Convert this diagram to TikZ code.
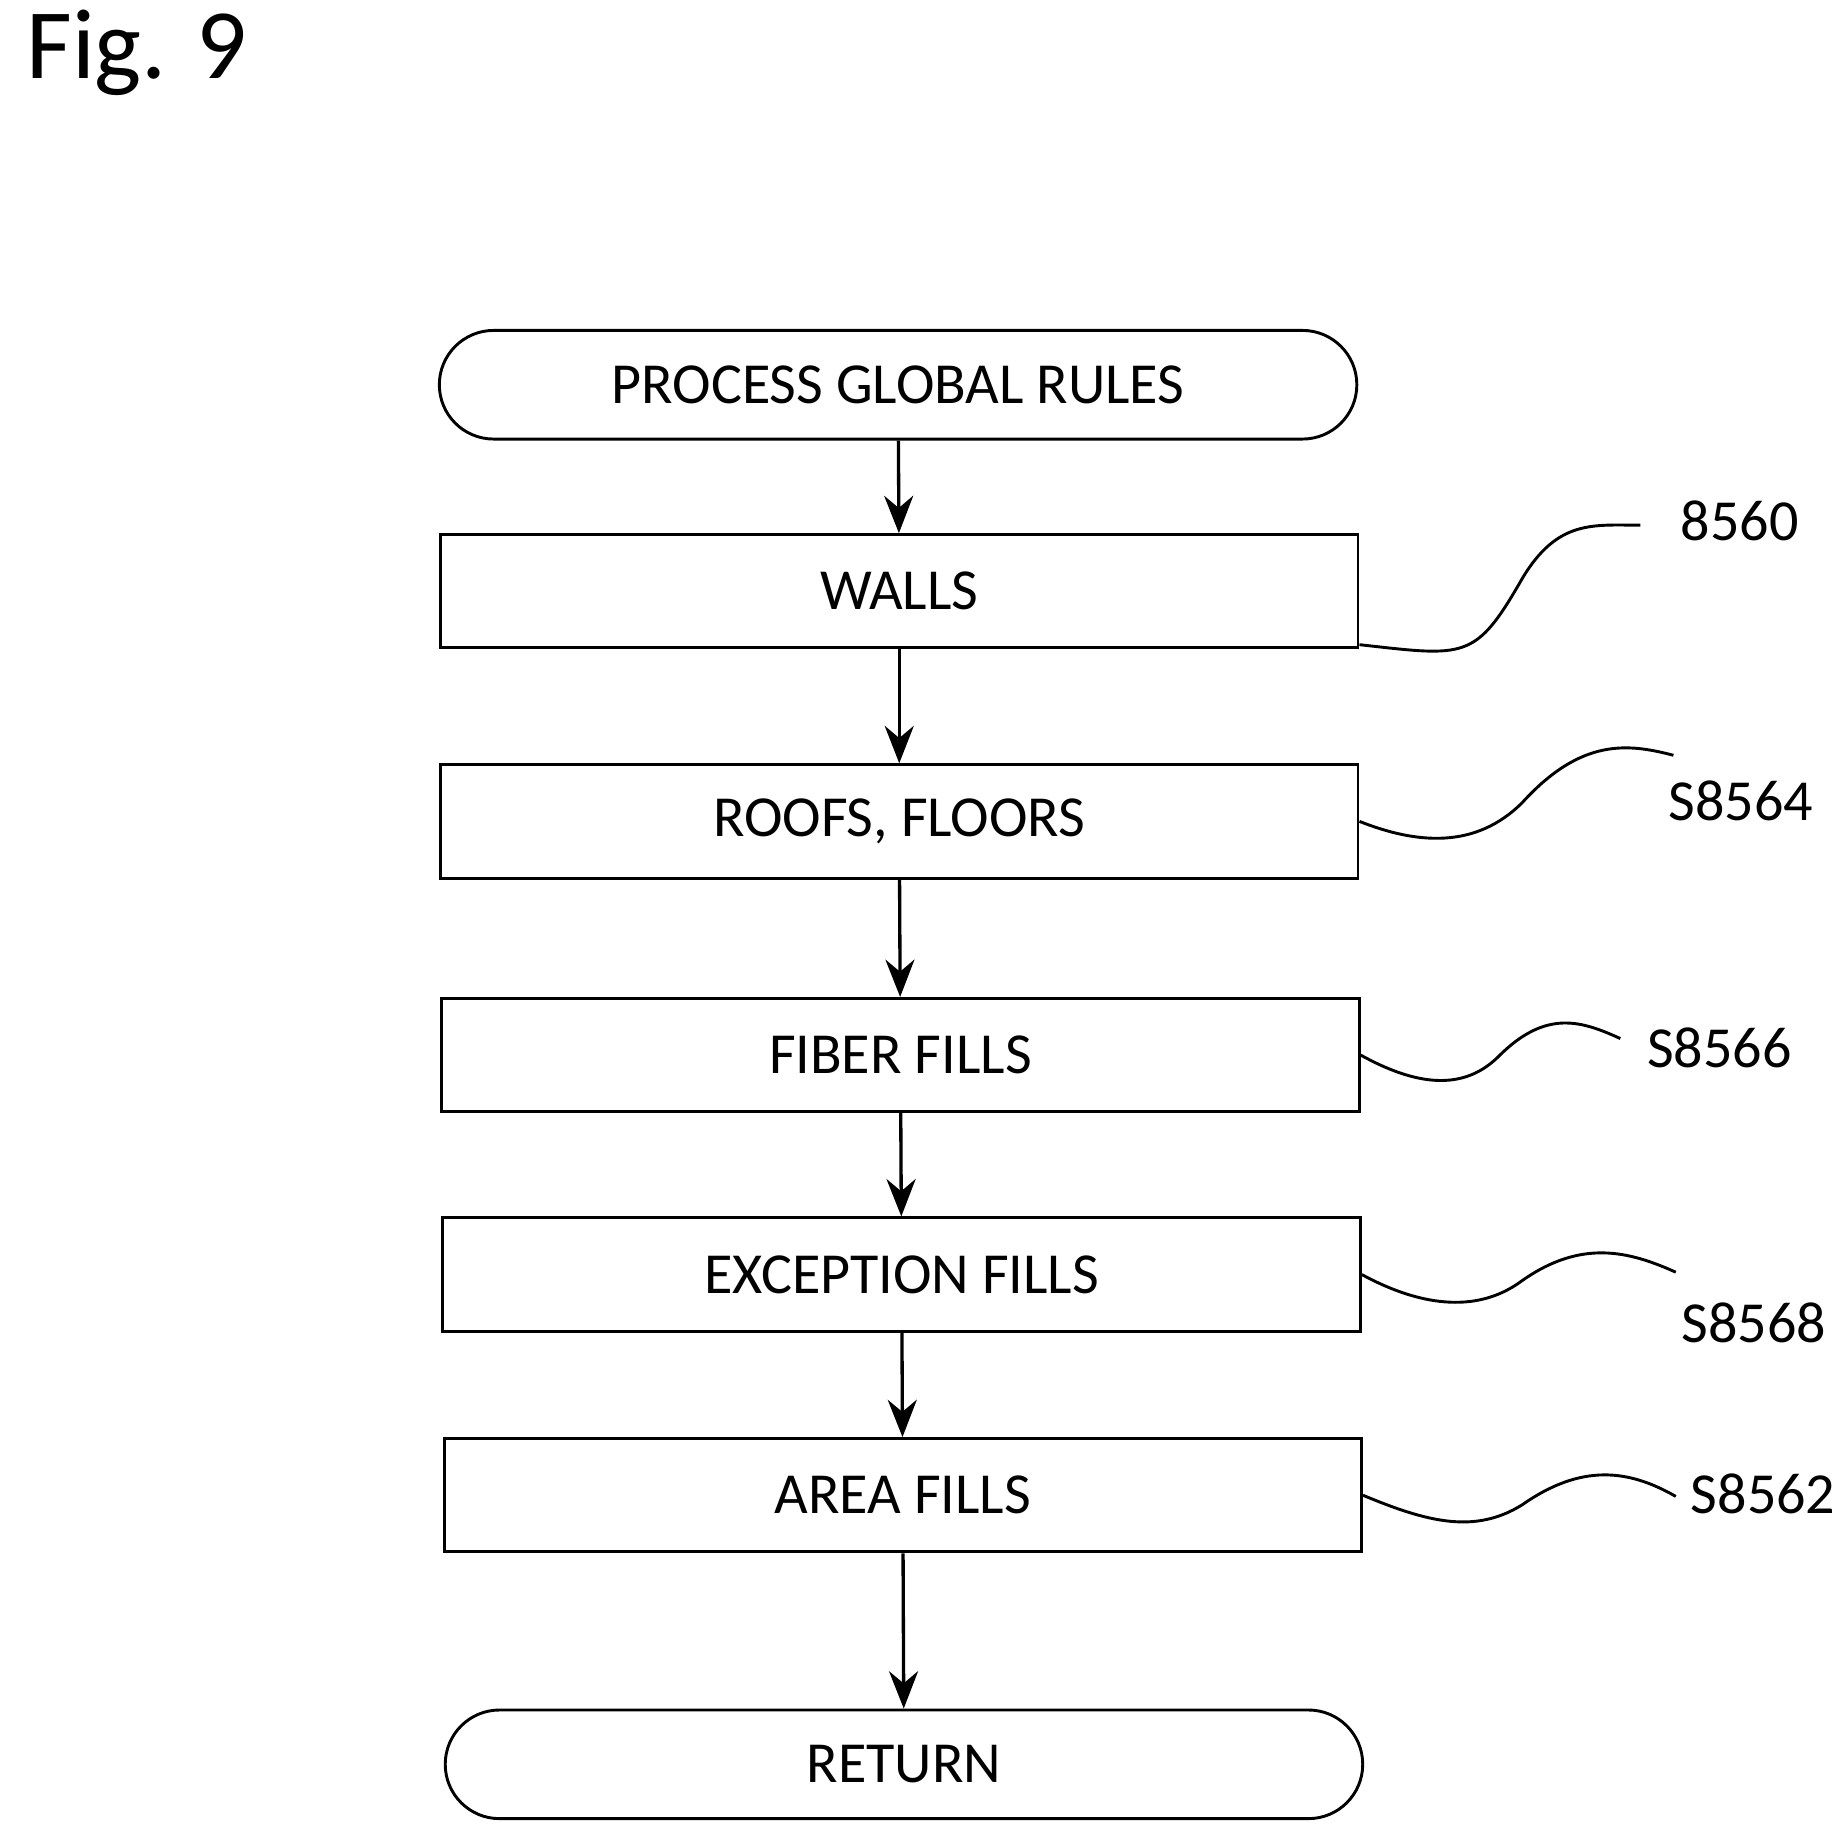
\documentclass[tikz,border=0pt]{standalone}
\usepackage{fontspec}
\setmainfont{Carlito}
\usetikzlibrary{arrows.meta}
\begin{document}
\begin{tikzpicture}[x=0.01cm,y=-0.01cm,
  box/.style={draw,line width=0.7pt,minimum width=7.77cm,minimum height=0.96cm,font=\fontsize{14}{16}\selectfont},
  term/.style={box,rounded corners=0.46cm,minimum height=0.92cm},
  arr/.style={-{Stealth[length=9pt,width=7pt]},line width=0.8pt},
  lead/.style={line width=0.7pt},
  lab/.style={font=\fontsize{14}{16}\selectfont}]
\useasboundingbox (0,0) rectangle (1560,1553);
\node[font=\fontsize{24}{28}\selectfont,anchor=west] (fig) at (10,45) {Fig. 9};
\node[term] (s) at (761,326) {PROCESS GLOBAL RULES};
\node[box] (w) at (762,501) {WALLS};
\node[box] (r) at (762,696) {ROOFS, FLOORS};
\node[box] (f) at (763,894) {FIBER FILLS};
\node[box] (e) at (764,1080) {EXCEPTION FILLS};
\node[box] (a) at (765,1267) {AREA FILLS};
\node[term] (t) at (766,1495) {RETURN};
\foreach \p/\q in {s/w,w/r,r/f,f/e,e/a,a/t} \draw[arr] (\p) -- (\q);
\node[lab] (l1) at (1474,441) {8560};
\node[lab] (l2) at (1475,679) {S8564};
\node[lab] (l3) at (1457,888) {S8566};
\node[lab] (l4) at (1486,1121) {S8568};
\node[lab] (l5) at (1494,1266) {S8562};
\coordinate (c1) at (1390,445);
\coordinate (c2) at (1418,640);
\coordinate (c3) at (1373,880);
\coordinate (c4) at (1420,1078);
\coordinate (c5) at (1420,1268);
\draw[lead] (w.south east)+(0,-4) .. controls +(90,10) and (1250,560) .. (1290,490) .. controls (1320,440) and (1350,445) .. (c1);
\draw[lead] (r.east) .. controls (1200,715) and (1250,720) .. (1290,680) .. controls (1340,625) and (1380,630) .. (c2);
\draw[lead] (f.east) .. controls (1200,920) and (1240,925) .. (1270,895) .. controls (1310,855) and (1340,865) .. (c3);
\draw[lead] (e.east) .. controls (1200,1105) and (1250,1115) .. (1290,1085) .. controls (1340,1050) and (1380,1060) .. (c4);
\draw[lead] (a.east) .. controls (1210,1290) and (1250,1300) .. (1290,1275) .. controls (1340,1240) and (1380,1245) .. (c5);
\end{tikzpicture}
\end{document}
